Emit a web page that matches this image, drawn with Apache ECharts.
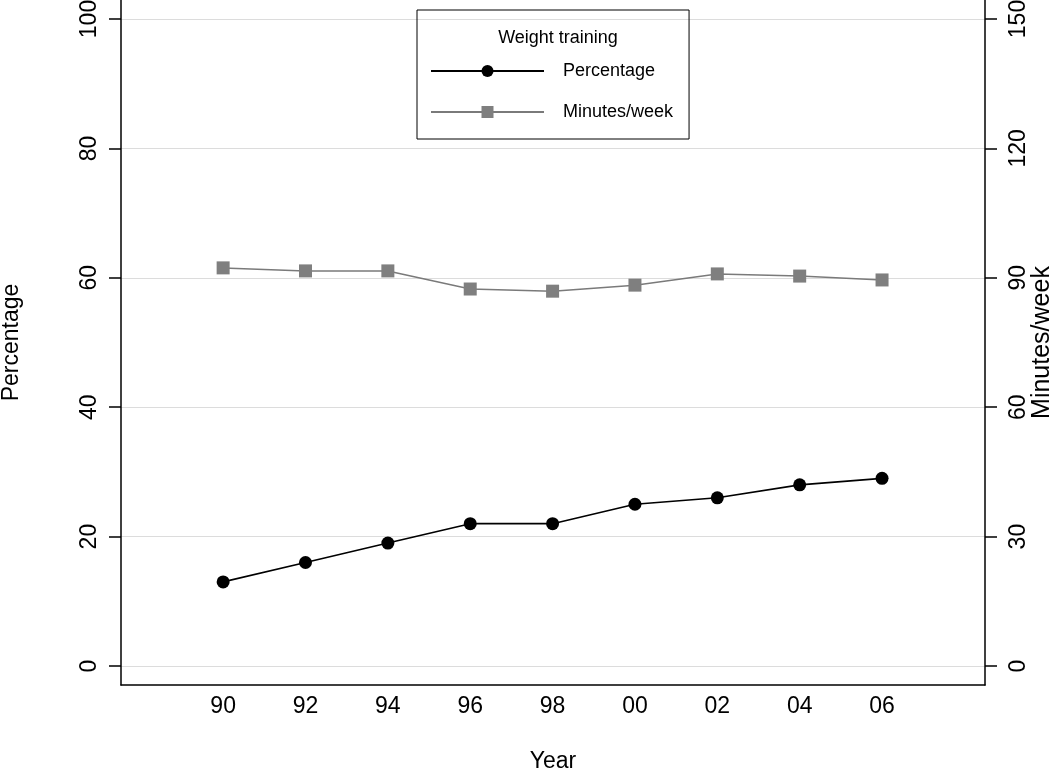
<!DOCTYPE html>
<html>
<head>
<meta charset="utf-8">
<script src="https://cdn.jsdelivr.net/npm/echarts@6/dist/echarts.min.js"></script>
<style>
html,body{margin:0;padding:0;background:#fff;}
#chart{width:1050px;height:769px;}
</style>
</head>
<body>
<div id="chart"></div>
<script>
// ---- data ----
const years = [1990, 1992, 1994, 1996, 1998, 2000, 2002, 2004, 2006];
const percentage = [13, 16, 19, 22, 22, 25, 26, 28, 29];
const minutesPerWeek = [92.3, 91.6, 91.6, 87.4, 86.9, 88.3, 90.9, 90.4, 89.5];
const leftTicks = [0, 20, 40, 60, 80, 100];
const rightTicks = [0, 30, 60, 90, 120, 150];
const legendTitle = 'Weight training';
const seriesNames = ['Percentage', 'Minutes/week'];

const FONT = 'Liberation Sans, Arial, sans-serif';
const chart = echarts.init(document.getElementById('chart'), null, {renderer: 'canvas'});

const leftMin = -2.937, leftMax = 102.937;
const rightMin = leftMin * 1.5, rightMax = leftMax * 1.5;

chart.setOption({
  animation: false,
  backgroundColor: '#fff',
  textStyle: {fontFamily: FONT},
  title: {
    text: legendTitle,
    left: 553,
    top: 24,
    textAlign: 'center',
    textStyle: {fontFamily: FONT, fontSize: 18, fontWeight: 'normal', color: '#000'}
  },
  legend: {
    orient: 'vertical',
    left: 417,
    top: 10,
    data: seriesNames,
    borderColor: '#000',
    borderWidth: 1,
    borderRadius: 0,
    padding: [52, 16, 18, 13],
    itemWidth: 113,
    itemHeight: 15,
    itemGap: 23,
    textStyle: {fontFamily: FONT, fontSize: 18, color: '#000', padding: [0, 0, 0, 14]}
  },
  grid: {left: 121, right: 65, top: 0, bottom: 84, containLabel: false, outerBoundsMode: 'none'},
  xAxis: {
    type: 'value',
    min: 1987.52,
    max: 2008.5,
    name: 'Year',
    nameLocation: 'middle',
    nameGap: 65,
    nameMoveOverlap: false,
    nameTextStyle: {fontFamily: FONT, fontSize: 23, color: '#000'},
    axisLine: {show: true, onZero: false, lineStyle: {color: '#000', width: 1.5}},
    axisTick: {show: false, customValues: years},
    axisLabel: {
      customValues: years,
      margin: 10,
      fontFamily: FONT, fontSize: 23, color: '#000',
      formatter: v => String(Math.round(v) % 100).padStart(2, '0')
    },
    splitLine: {show: false}
  },
  yAxis: [
    {
      type: 'value',
      position: 'left',
      min: leftMin,
      max: leftMax,
      name: 'Percentage',
      nameLocation: 'middle',
      nameRotate: 90,
      nameGap: 98,
      nameMoveOverlap: false,
      nameTextStyle: {fontFamily: FONT, fontSize: 23, color: '#000'},
      axisLine: {show: true, onZero: false, lineStyle: {color: '#000', width: 1.5}},
      axisTick: {show: true, length: 12, customValues: leftTicks, lineStyle: {color: '#000', width: 1.5}},
      axisLabel: {customValues: leftTicks, rotate: 90, margin: 20, fontFamily: FONT, fontSize: 23, color: '#000'},
      splitLine: {show: true, lineStyle: {color: '#dcdcdc', width: 1}}
    },
    {
      type: 'value',
      position: 'right',
      min: rightMin,
      max: rightMax,
      name: 'Minutes/week',
      nameLocation: 'middle',
      nameRotate: 90,
      nameGap: 45,
      nameMoveOverlap: false,
      nameTextStyle: {fontFamily: FONT, fontSize: 25, color: '#000'},
      axisLine: {show: true, onZero: false, lineStyle: {color: '#000', width: 1.5}},
      axisTick: {show: true, length: 12, customValues: rightTicks, lineStyle: {color: '#000', width: 1.5}},
      axisLabel: {customValues: rightTicks, rotate: 90, margin: 22, fontFamily: FONT, fontSize: 23, color: '#000'},
      splitLine: {show: false}
    }
  ],
  series: [
    {
      name: seriesNames[0],
      type: 'line',
      yAxisIndex: 0,
      data: years.map((y, i) => [y, percentage[i]]),
      symbol: 'circle',
      symbolSize: 13,
      lineStyle: {color: '#000', width: 1.6},
      itemStyle: {color: '#000'},
      z: 3
    },
    {
      name: seriesNames[1],
      type: 'line',
      yAxisIndex: 1,
      data: years.map((y, i) => [y, minutesPerWeek[i]]),
      symbol: 'rect',
      symbolSize: 13,
      lineStyle: {color: '#7a7a7a', width: 1.5},
      itemStyle: {color: '#7f7f7f'},
      z: 2
    }
  ]
});
</script>
</body>
</html>
